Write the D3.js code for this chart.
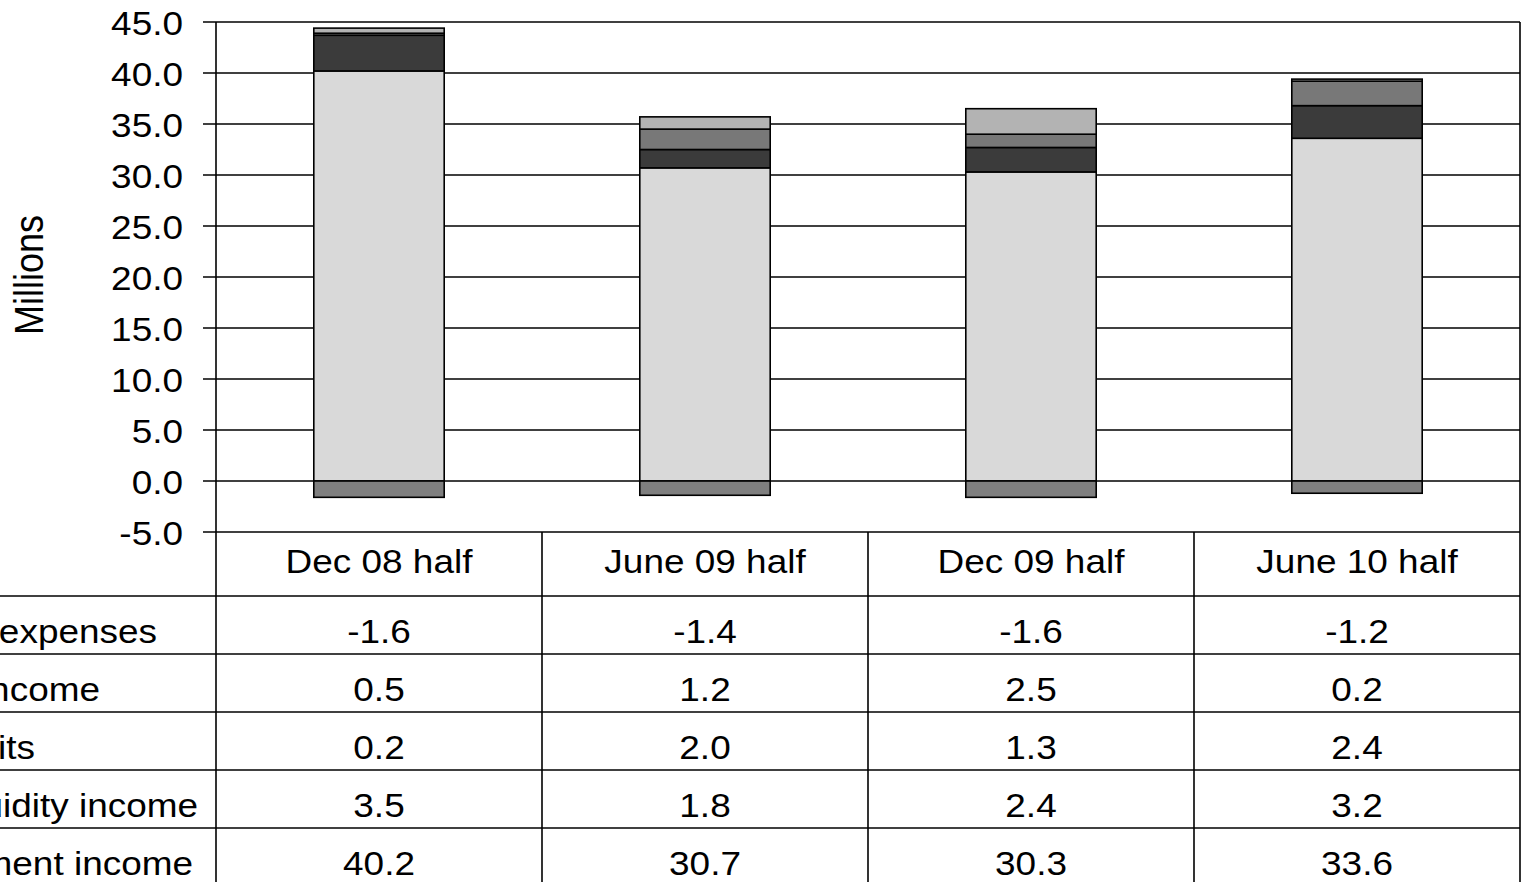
<!DOCTYPE html>
<html>
<head>
<meta charset="utf-8">
<script src="https://cdn.jsdelivr.net/npm/d3@7/dist/d3.min.js"></script>
<style>
  html, body { margin: 0; padding: 0; background: #fff; }
  svg { display: block; font-family: "Liberation Sans", Arial, sans-serif; }
</style>
</head>
<body>
<svg id="chart" width="1523" height="882"></svg>
<script>
// Half-year figures, in millions
const categories = ["Dec 08 half", "June 09 half", "Dec 09 half", "June 10 half"];
const investmentIncome = [40.2, 30.7, 30.3, 33.6];
const liquidityIncome = [3.5, 1.8, 2.4, 3.2];
const tradingProfits = [0.2, 2.0, 1.3, 2.4];
const otherIncome = [0.5, 1.2, 2.5, 0.2];
const operatingExpenses = [-1.6, -1.4, -1.6, -1.2];
const yTickValues = [-5, 0, 5, 10, 15, 20, 25, 30, 35, 40, 45];

// Series in stacking order (bottom to top), each with its fill
const series = [
  { key: "Investment income", values: investmentIncome, fill: "#d9d9d9" },
  { key: "Liquidity income", values: liquidityIncome, fill: "#3b3b3b" },
  { key: "Trading profits", values: tradingProfits, fill: "#787878" },
  { key: "Other income", values: otherIncome, fill: "#b3b3b3" },
  { key: "Operating expenses", values: operatingExpenses, fill: "#7f7f7f" }
];
// Data table rows, listed top to bottom, with where each row label ends
const tableRows = [
  { key: "Operating expenses", labelEnd: 157 },
  { key: "Other income", labelEnd: 100 },
  { key: "Trading profits", labelEnd: 35 },
  { key: "Liquidity income", labelEnd: 198 },
  { key: "Investment income", labelEnd: 193 }
];

const FONT = 33, SX = 1.12, LINE = "#000", LW = 1.6;
const plot = { left: 216, right: 1520, top: 22, bottom: 532 };
const table = { headerBottom: 596, rowH: 58, rows: tableRows.length };

// One decimal place, with a plain hyphen for negatives
const fmt = v => d3.format(".1f")(v).replace("\u2212", "-");

const svg = d3.select("#chart");

const x = d3.scaleBand().domain(categories)
  .range([plot.left, plot.right]).paddingInner(0.6).paddingOuter(0.3);
const y = d3.scaleLinear().domain([-5, 45]).range([plot.bottom, plot.top]);

function label(g, txt, tx, ty, anchor, size, extra) {
  return g.append("text")
    .attr("transform", `translate(${tx},${ty}) scale(${SX},1)` + (extra || ""))
    .attr("text-anchor", anchor)
    .attr("font-size", size || FONT)
    .attr("fill", "#000")
    .text(txt);
}

// Gridlines with tick marks left of the axis
const grid = svg.append("g");
grid.selectAll("line").data(yTickValues).join("line")
  .attr("x1", plot.left - 13).attr("x2", plot.right)
  .attr("y1", d => y(d)).attr("y2", d => y(d))
  .attr("stroke", LINE).attr("stroke-width", LW);

// Y tick labels
const yl = svg.append("g");
yTickValues.forEach(v => label(yl, fmt(v), 183, y(v) + 12.5, "end"));

// Axis title
svg.append("text")
  .attr("transform", `translate(43,275) scale(${SX},1) rotate(-90)`)
  .attr("text-anchor", "middle").attr("font-size", 36).text("Millions");

// Stacked bars
const rows = categories.map((c, i) => {
  const r = { category: c };
  series.forEach(s => r[s.key] = s.values[i]);
  return r;
});
const stacked = d3.stack().keys(series.map(s => s.key))
  .offset(d3.stackOffsetDiverging)(rows);

const bars = svg.append("g");
stacked.forEach((layer, li) => {
  bars.append("g").attr("fill", series[li].fill)
    .selectAll("rect").data(layer).join("rect")
    .attr("x", d => x(d.data.category))
    .attr("width", x.bandwidth())
    .attr("y", d => y(Math.max(d[0], d[1])))
    .attr("height", d => Math.abs(y(d[0]) - y(d[1])))
    .attr("stroke", LINE).attr("stroke-width", LW);
});

// Plot frame: axis line and right border
svg.append("line").attr("x1", plot.left).attr("x2", plot.left)
  .attr("y1", plot.top).attr("y2", 882).attr("stroke", LINE).attr("stroke-width", LW);
svg.append("line").attr("x1", plot.right).attr("x2", plot.right)
  .attr("y1", plot.top).attr("y2", 882).attr("stroke", LINE).attr("stroke-width", LW);

// Data table
const tbl = svg.append("g");
const step = x.step();
categories.forEach((c, i) => {
  if (i > 0) {
    const cx = plot.left + step * i;
    tbl.append("line").attr("x1", cx).attr("x2", cx)
      .attr("y1", plot.bottom).attr("y2", 882)
      .attr("stroke", LINE).attr("stroke-width", LW);
  }
  label(tbl, c, x(c) + x.bandwidth() / 2, 573, "middle");
});
for (let r = 0; r < table.rows; r++) {
  const top = table.headerBottom + r * table.rowH;
  tbl.append("line").attr("x1", 0).attr("x2", plot.right)
    .attr("y1", top).attr("y2", top).attr("stroke", LINE).attr("stroke-width", LW);
  const row = tableRows[r];
  const s = series.find(d => d.key === row.key);
  label(tbl, row.key, row.labelEnd, top + 47, "end");
  categories.forEach((c, i) => {
    label(tbl, fmt(s.values[i]), x(c) + x.bandwidth() / 2, top + 47, "middle");
  });
}
</script>
</body>
</html>
